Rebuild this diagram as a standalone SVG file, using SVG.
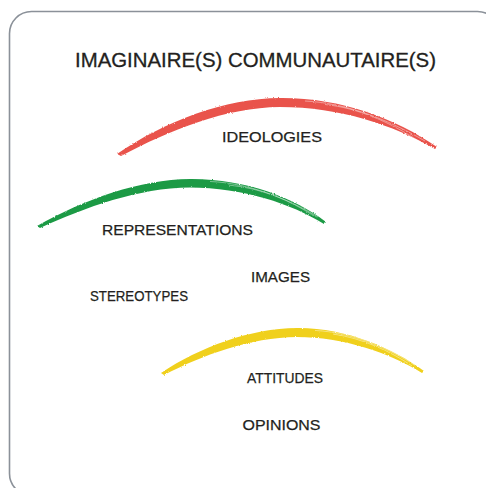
<svg xmlns="http://www.w3.org/2000/svg" width="486" height="488" viewBox="0 0 486 488">
  <defs>
    <filter id="rough" x="-5%" y="-20%" width="110%" height="140%">
      <feTurbulence type="fractalNoise" baseFrequency="0.9" numOctaves="2" seed="3" result="n"/>
      <feDisplacementMap in="SourceGraphic" in2="n" scale="2.2" xChannelSelector="R" yChannelSelector="G"/>
    </filter>
  </defs>
  <style>
    .frame { fill: #ffffff; stroke: #8b9199; stroke-width: 1.6; }
    .lbl { font-family: "Liberation Sans", "DejaVu Sans", sans-serif; font-size: 15.5px; fill: #231f20; stroke: #231f20; stroke-width: 0.25; }
    .title { font-family: "Liberation Sans", "DejaVu Sans", sans-serif; font-size: 20px; fill: #231f20; stroke: #231f20; stroke-width: 0.3; }
    .streak { fill: none; stroke: #ffffff; stroke-width: 0.6; stroke-opacity: 0.7; }
    .red { fill: #e9534c; }
    .green { fill: #1b9a45; }
    .yellow { fill: #f0d01c; }
  </style>

  <rect class="frame" x="9.5" y="11.5" width="490" height="484" rx="22" ry="22"/>

  <g id="title">
    <text class="title" x="75" y="67" textLength="361" lengthAdjust="spacingAndGlyphs">IMAGINAIRE(S) COMMUNAUTAIRE(S)</text>
  </g>

  <g id="arc-ideologies" filter="url(#rough)">
    <path class="red" d="M117,154 C165,121 225,98.5 280,98 C340,97.5 395,118 437,147 L435,149 C393,125 340,107 280,107 C226,107.5 170,130 121,156 Z"/>
    <path class="streak" d="M305,101 C345,103 385,118 425,141"/>
    <path class="streak" d="M325,104.5 C358,108 390,122 420,142"/>
  </g>

  <g id="arc-representations" filter="url(#rough)">
    <path class="green" d="M37,226 C85,199 140,179.5 190,179 C245,178.5 295,198 326,222 L324,224 C292,204 243,187.5 190,187.5 C138,188 86,207 40,228 Z"/>
    <path class="streak" d="M210,181.5 C248,183 287,198 318,217"/>
    <path class="streak" d="M228,185 C262,188 291,201 314,216"/>
  </g>

  <g id="arc-attitudes" filter="url(#rough)">
    <path class="yellow" d="M161,373 C200,347 250,328.5 297,328 C345,327.5 393,348 424,371 L422,373 C390,353 343,337 297,337 C250,337.5 203,355 164,375 Z"/>
    <path class="streak" d="M315,330.5 C352,332 390,349 416,366"/>
    <path class="streak" d="M333,334 C362,338 392,352 412,366"/>
  </g>

  <g id="ideologies"><text class="lbl" x="222" y="142" textLength="100" lengthAdjust="spacingAndGlyphs">IDEOLOGIES</text></g>
  <g id="representations"><text class="lbl" x="102" y="235" textLength="151" lengthAdjust="spacingAndGlyphs">REPRESENTATIONS</text></g>
  <g id="images"><text class="lbl" x="251" y="281.5" textLength="59" lengthAdjust="spacingAndGlyphs">IMAGES</text></g>
  <g id="stereotypes"><text class="lbl" x="90" y="300.5" textLength="98" lengthAdjust="spacingAndGlyphs">STEREOTYPES</text></g>
  <g id="attitudes"><text class="lbl" x="247" y="383.3" textLength="76" lengthAdjust="spacingAndGlyphs">ATTITUDES</text></g>
  <g id="opinions"><text class="lbl" x="242.5" y="430" textLength="78" lengthAdjust="spacingAndGlyphs">OPINIONS</text></g>
</svg>
